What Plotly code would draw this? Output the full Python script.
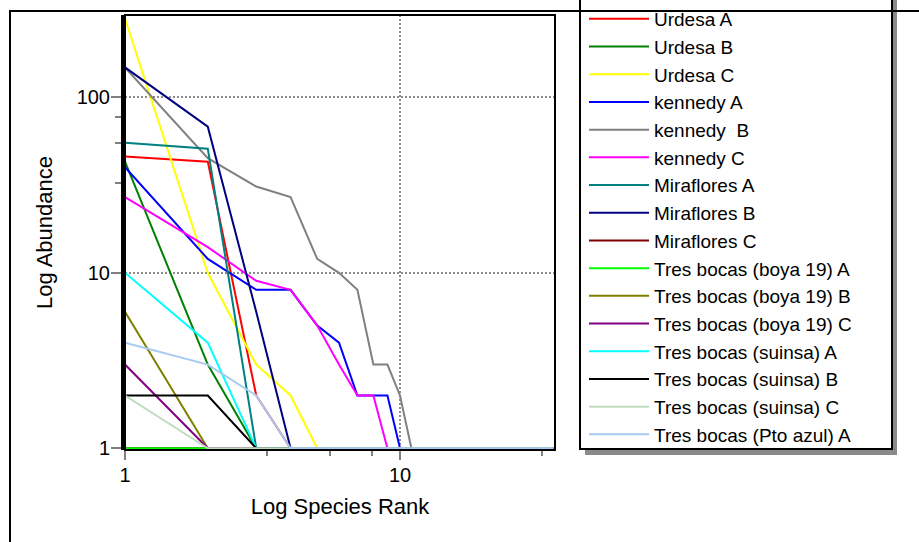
import plotly.graph_objects as go

# ---- data (abundance by species rank; each series then stays at 1 to the last rank) ----
series_names = [
    "Urdesa A", "Urdesa B", "Urdesa C",
    "kennedy A", "kennedy  B", "kennedy C",
    "Miraflores A", "Miraflores B", "Miraflores C",
    "Tres bocas (boya 19) A", "Tres bocas (boya 19) B", "Tres bocas (boya 19) C",
    "Tres bocas (suinsa) A", "Tres bocas (suinsa) B", "Tres bocas (suinsa) C",
    "Tres bocas (Pto azul) A",
]
urdesa_a = [46, 43, 2, 1]
urdesa_b = [43, 3, 1]
urdesa_c = [280, 10, 3, 2, 1]
kennedy_a = [40, 12, 8, 8, 5, 4, 2, 2, 2, 1]
kennedy_b = [148, 45, 31, 27, 12, 10, 8, 3, 3, 2, 1]
kennedy_c = [27, 14, 9, 8, 5, 3, 2, 2, 1]
miraflores_a = [55, 51, 1]
miraflores_b = [148, 68, 6, 1]
miraflores_c = [1, 1]
boya19_a = [1, 1]
boya19_b = [6, 1]
boya19_c = [3, 1]
suinsa_a = [10, 4, 1]
suinsa_b = [2, 2, 1]
suinsa_c = [2, 1]
pto_azul_a = [4, 3, 2, 1]
last_rank = 36

series_values = [urdesa_a, urdesa_b, urdesa_c, kennedy_a, kennedy_b, kennedy_c,
                 miraflores_a, miraflores_b, miraflores_c, boya19_a, boya19_b, boya19_c,
                 suinsa_a, suinsa_b, suinsa_c, pto_azul_a]

colors = ["#FF0000", "#008000", "#FFFF00", "#0000FF", "#808080", "#FF00FF",
          "#008080", "#000080", "#800000", "#00FF00", "#808000", "#800080",
          "#00FFFF", "#000000", "#C0DCC0", "#A6CAF0"]

y_tick_vals = [1, 10, 100]
y_tick_text = ["1", "10", "100"]
x_tick_vals = [1, 10]
x_tick_text = ["1", "10"]
x_minor_vals = [3.27, 5.56, 7.9, 32.8]
y_minor_vals = [32.6, 54.7, 77]

FONT = "Liberation Sans, Arial, sans-serif"

fig = go.Figure()
for name, vals, col in zip(series_names, series_values, colors):
    xs = list(range(1, len(vals) + 1)) + [last_rank]
    ys = list(vals) + [1]
    fig.add_trace(go.Scatter(x=xs, y=ys, mode="lines", name=name,
                             line=dict(color=col, width=2)))

# plot area: x 125..555 px, y 15..450 px
L, R, T, B = 125, 364, 15, 92
W, H = 919, 542
pw, ph = W - L - R, H - T - B

def px(x):
    return (x - L) / pw

def py(y):
    return (H - B - y) / ph

shapes = [
    # legend shadow
    dict(type="rect", xref="paper", yref="paper", x0=px(585), x1=px(897), y0=py(455), y1=py(-20),
         line=dict(width=0), fillcolor="#8a8a8a", layer="above"),
    # legend box
    dict(type="rect", xref="paper", yref="paper", x0=px(580), x1=px(892), y0=py(449), y1=py(-20),
         line=dict(color="black", width=2), fillcolor="white", layer="above"),
    # outer frame
    dict(type="rect", xref="paper", yref="paper", x0=px(10), x1=px(960), y0=py(600), y1=py(11),
         line=dict(color="black", width=2), layer="above"),
    # plot frame
    dict(type="rect", xref="paper", yref="paper", x0=0, x1=1, y0=0, y1=1,
         line=dict(color="black", width=2), layer="above"),
]

fig.update_layout(
    width=W, height=H,
    margin=dict(l=L, r=R, t=T, b=B, autoexpand=False),
    paper_bgcolor="white", plot_bgcolor="white",
    font=dict(family=FONT, color="black"),
    showlegend=True,
    legend=dict(x=px(584), xanchor="left", y=py(0), yanchor="top",
                bgcolor="rgba(0,0,0,0)", borderwidth=0,
                font=dict(family=FONT, size=19, color="black"),
                itemwidth=60, tracegroupgap=0, maxheight=1000),
    shapes=shapes,
)

fig.update_xaxes(
    type="log", range=[0, 1.5636],
    tickmode="array", tickvals=x_tick_vals, ticktext=x_tick_text,
    ticks="outside", ticklen=9, tickwidth=2, tickcolor="#808080",
    tickfont=dict(family=FONT, size=20, color="black"), ticklabelstandoff=-2,
    showgrid=True, gridcolor="#8c8c8c", gridwidth=1.5, griddash="2px,2px",
    minor=dict(tickmode="array", tickvals=x_minor_vals, ticks="outside", ticklen=5,
               tickwidth=2, tickcolor="#808080", showgrid=False),
    showline=False, zeroline=False,
    title=dict(text="Log Species Rank", standoff=13,
               font=dict(family=FONT, size=22, color="black")),
)
fig.update_yaxes(
    type="log", range=[-0.0097, 2.469],
    tickmode="array", tickvals=y_tick_vals, ticktext=y_tick_text,
    ticks="outside", ticklen=10, tickwidth=2, tickcolor="#808080",
    tickfont=dict(family=FONT, size=20, color="black"), ticklabelstandoff=-3,
    showgrid=True, gridcolor="#8c8c8c", gridwidth=1.5, griddash="2px,2px",
    minor=dict(tickmode="array", tickvals=y_minor_vals, ticks="outside", ticklen=6,
               tickwidth=2, tickcolor="#808080", showgrid=False),
    showline=True, linecolor="black", linewidth=4, mirror=False, zeroline=False,
    title=dict(text="Log Abundance", standoff=19,
               font=dict(family=FONT, size=22, color="black")),
)

fig.write_html("out.html", config={"displayModeBar": False},
               post_script="document.body.style.margin='0';")
